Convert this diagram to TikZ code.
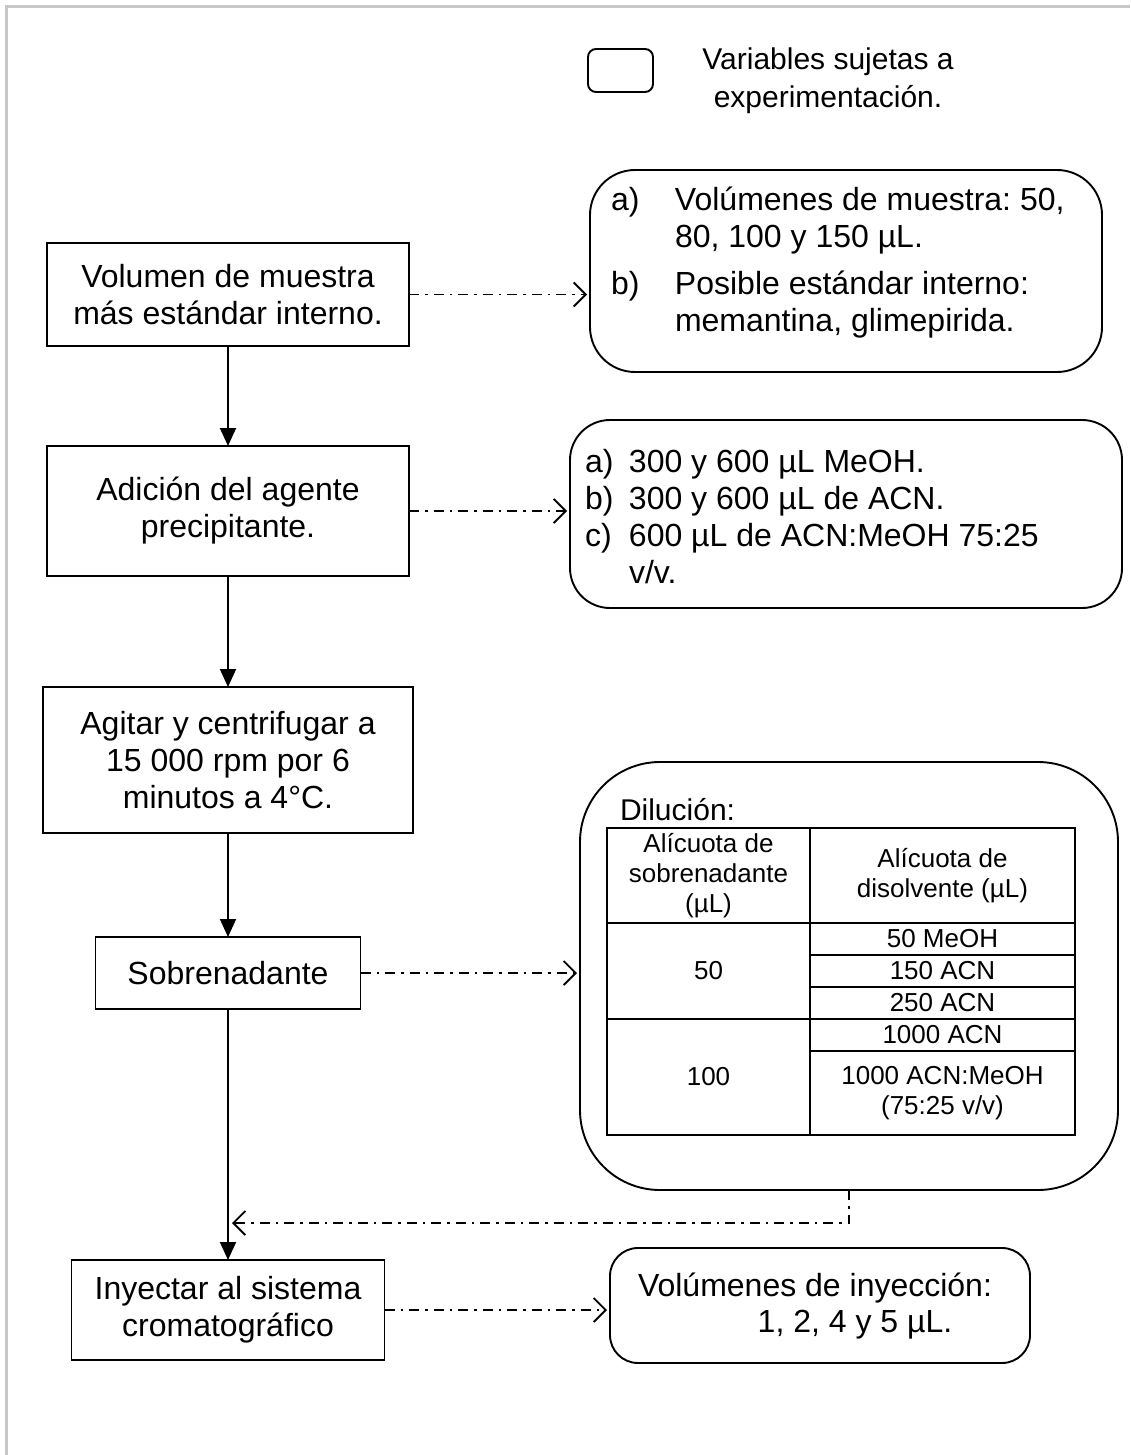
\documentclass[tikz,border=0pt]{standalone}
\usepackage{fontspec}
\setmainfont{Liberation Sans}
\usetikzlibrary{arrows.meta,calc}
\definecolor{framegray}{RGB}{200,200,200}
\begin{document}
\frenchspacing
\begin{tikzpicture}[x=1pt,y=-1pt,
  every node/.style={inner sep=0pt, outer sep=0pt},
  fbig/.style={font=\fontsize{32}{37}\selectfont\frenchspacing},
  proc/.style={draw, line width=1.9pt, align=center, fbig},
  var/.style={draw, line width=1.9pt},
  flow/.style={line width=1.9pt, -{Triangle[length=18pt,width=16pt]}},
  opt/.style={line width=1.9pt, dash pattern=on 10pt off 6pt on 2.5pt off 6pt,
     -{Straight Barb[length=12pt,width=24pt,line width=1.9pt]}, shorten >=3pt},
  tline/.style={line width=1.9pt},
  tt/.style={font=\fontsize{26}{30}\selectfont, align=center}
]
\useasboundingbox (0,0) rectangle (1130,1455);
\fill[white] (0,0) rectangle (1130,1455);
\draw[line width=2.5pt, framegray] (6.5,1455) -- (6.5,6.5) -- (1130,6.5);

% legend
\node[var, rounded corners=8pt, minimum width=65pt, minimum height=43pt] (leg) at (620.5,70.5) {};
\node[font=\fontsize{30}{38}\selectfont, align=center] (legtxt) at (828,81) {Variables sujetas a\\experimentación.};

% main steps
\node[proc, minimum width=362pt, minimum height=103pt] (s1) at (228,294.5) {Volumen de muestra\\más estándar interno.};
\node[proc, minimum width=362pt, minimum height=130pt] (s2) at (228,511) {Adición del agente\\precipitante.};
\node[proc, minimum width=370pt, minimum height=146pt] (s3) at (228,760) {Agitar y centrifugar a\\15 000 rpm por 6\\minutos a 4°C.};
\node[proc, minimum width=265pt, minimum height=72pt] (s4) at (228,973) {Sobrenadante};
\node[proc, minimum width=313pt, minimum height=100pt] (s5) at (228,1310) {Inyectar al sistema\\cromatográfico};

% variable boxes
\node[var, rounded corners=45pt, minimum width=512pt, minimum height=202pt] (r1) at (846,271) {};
\node[var, rounded corners=40pt, minimum width=552pt, minimum height=188pt] (r2) at (846,514) {};
\node[var, rounded corners=80pt, minimum width=538pt, minimum height=428pt] (r3) at (849,976) {};
\node[var, rounded corners=28pt, minimum width=420pt, minimum height=115pt] (r4) at (820,1305.5) {};

\node[fbig, anchor=base west] (r1t) at (611,211) {\begin{tabular}[t]{@{}l@{}l@{}}\makebox[64pt][l]{a)} & Volúmenes de muestra: 50,\\ & 80, 100 y 150 µL.\\[10pt] \makebox[64pt][l]{b)} & Posible estándar interno:\\ & memantina, glimepirida.\end{tabular}};

\node[fbig, anchor=base west] (r2t) at (585,472) {\begin{tabular}[t]{@{}l@{}l@{}}\makebox[44pt][l]{a)} & 300 y 600 µL MeOH.\\ \makebox[44pt][l]{b)} & 300 y 600 µL de ACN.\\ \makebox[44pt][l]{c)} & 600 µL de ACN:MeOH 75:25\\ & v/v.\end{tabular}};

% dilution table
\node[font=\fontsize{30}{36}\selectfont, anchor=base west] (dil) at (620,820) {Dilución:};
\node[draw, line width=1.9pt, minimum width=468pt, minimum height=307pt] (tbl) at (841,981.5) {};
\draw[tline] (810,828) -- (810,1135);
\draw[tline] (607,923) -- (1075,923);
\draw[tline] (607,1019) -- (1075,1019);
\draw[tline] (810,955) -- (1075,955) (810,987) -- (1075,987) (810,1051) -- (1075,1051);
\node[tt] (h1) at (708.5,875.5) {Alícuota de\\sobrenadante\\(µL)};
\node[tt] (h2) at (942.5,875.5) {Alícuota de\\disolvente (µL)};
\node[tt] (c50) at (708.5,971) {50};
\node[tt] (c100) at (708.5,1077) {100};
\node[tt] (d1) at (942.5,939) {50 MeOH};
\node[tt] (d2) at (942.5,971) {150 ACN};
\node[tt] (d3) at (942.5,1003) {250 ACN};
\node[tt] (d4) at (942.5,1035) {1000 ACN};
\node[tt] (d5) at (942.5,1093) {1000 ACN:MeOH\\(75:25 v/v)};

% injection
\node[fbig] (r4a) at (815,1288) {Volúmenes de inyección:};
\node[fbig] (r4b) at (855,1325) {1, 2, 4 y 5 µL.};

% connectors
\draw[flow] (s1) -- (s2);
\draw[flow] (s2) -- (s3);
\draw[flow] (s3) -- (s4);
\draw[flow] (s4) -- (s5);
\draw[opt] (s1.east) -- (s1.east -| r1.west);
\draw[opt] (s2.east) -- (s2.east -| r2.west);
\draw[opt] (s4.east) -- (s4.east -| r3.west);
\draw[opt] (s5.east) -- (s5.east -| r4.west);
\coordinate (jn) at (229,1223);
\draw[opt] (r3.south) |- (jn);
\end{tikzpicture}
\end{document}
